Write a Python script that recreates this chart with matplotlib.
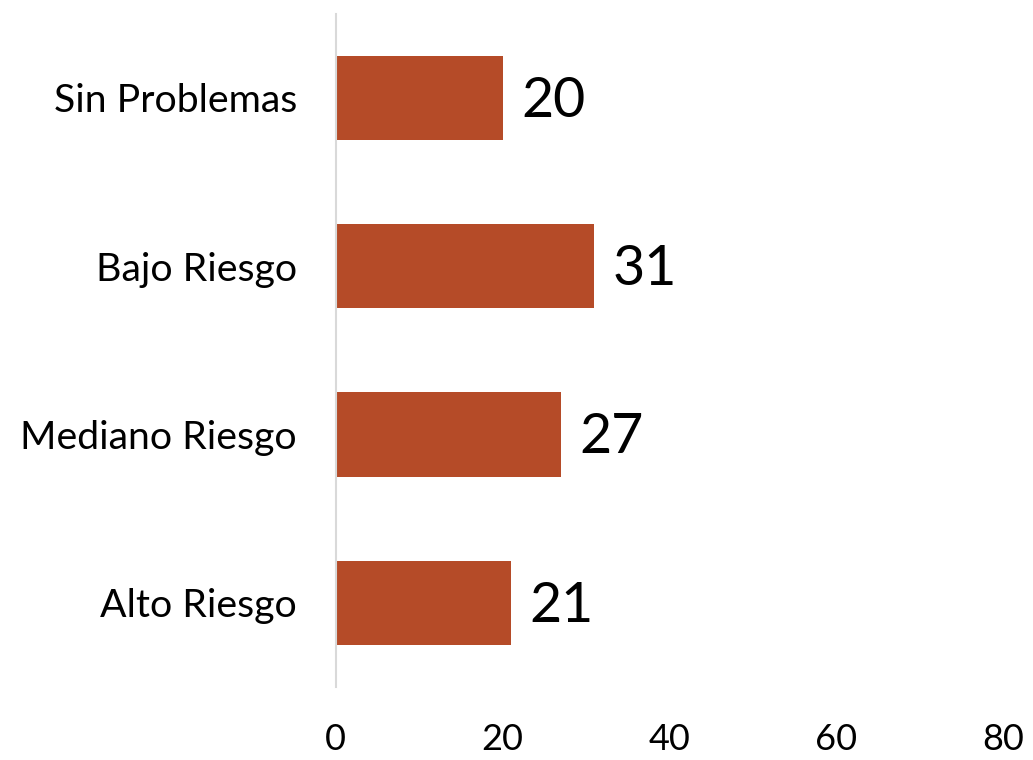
import matplotlib.pyplot as plt

categories = ["Alto Riesgo", "Mediano Riesgo", "Bajo Riesgo", "Sin Problemas"]
values = [21, 27, 31, 20]
xticks = [0, 20, 40, 60, 80]

plt.rcParams['font.family'] = ['Lato', 'DejaVu Sans']

fig = plt.figure(figsize=(10.33, 7.6), dpi=100)
ax = fig.add_axes([0.325, 0.096, 0.646, 0.886])

bars = ax.barh(categories, values, height=0.5, color='#b54b28')
for b, v in zip(bars, values):
    ax.text(b.get_width() + 2.2, b.get_y() + b.get_height() / 2 - 0.02, str(v),
            va='center', ha='left', fontsize=40)

ax.set_xlim(0, 80)
ax.set_ylim(-0.5, 3.5)
ax.set_xticks(xticks)
ax.tick_params(axis='x', length=0, labelsize=26, pad=26)
ax.tick_params(axis='y', length=0, labelsize=28.3, pad=28)
for s in ['top', 'right', 'bottom']:
    ax.spines[s].set_visible(False)
ax.spines['left'].set_color('#d9d9d9')
ax.spines['left'].set_linewidth(1.5)

fig.savefig('out.png', dpi=100)
